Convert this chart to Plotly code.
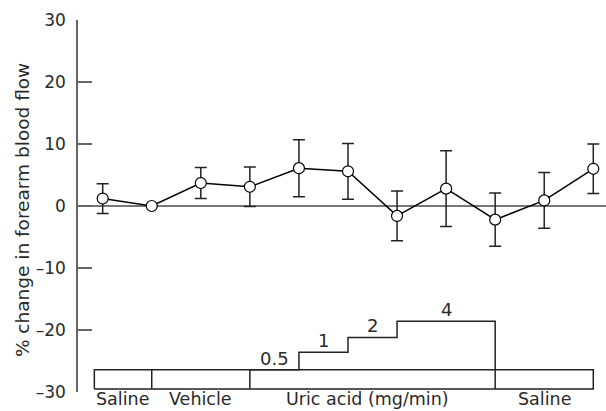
import plotly.graph_objects as go

# ---- data ----
time_points = [1, 2, 3, 4, 5, 6, 7, 8, 9, 10, 11]
pct_change = [1.2, 0.0, 3.7, 3.1, 6.1, 5.6, -1.6, 2.8, -2.2, 0.9, 6.0]
sem = [2.4, 0.0, 2.5, 3.2, 4.6, 4.5, 4.0, 6.1, 4.3, 4.5, 4.0]

y_ticks = [-30, -20, -10, 0, 10, 20, 30]
y_tick_labels = ["–30", "–20", "–10", "0", "10", "20", "30"]

# infusion protocol
phase_names = ["Saline", "Vehicle", "Uric acid (mg/min)", "Saline"]
phase_bounds = [0.83, 2, 4, 9, 11]
phase_label_x = [1.4, 3.0, 6.4, 10.0]
box_bottom = -29.5
box_top = -26.4
dose_labels = ["0.5", "1", "2", "4"]
dose_start = [4, 5, 6, 7]
dose_end = [5, 6, 7, 9]
dose_level = [-26.4, -23.6, -21.2, -18.6]

FONT = "DejaVu Sans"
INK = "#222222"
TXT = "#2a2a2a"

fig = go.Figure()

# protocol base boxes
fig.add_trace(go.Scatter(
    x=[phase_bounds[0], phase_bounds[-1], phase_bounds[-1], phase_bounds[0], phase_bounds[0]],
    y=[box_bottom, box_bottom, box_top, box_top, box_bottom],
    mode="lines", line=dict(color=INK, width=1.5), hoverinfo="skip", showlegend=False))
for b in phase_bounds[1:-1]:
    fig.add_trace(go.Scatter(x=[b, b], y=[box_bottom, box_top], mode="lines",
                             line=dict(color=INK, width=1.5), hoverinfo="skip", showlegend=False))

# dose staircase
sx, sy = [], []
for s, e, lv in zip(dose_start, dose_end, dose_level):
    sx += [s, e]
    sy += [lv, lv]
sx.append(dose_end[-1])
sy.append(box_top)
fig.add_trace(go.Scatter(x=sx, y=sy, mode="lines", line=dict(color=INK, width=1.5, shape="vh"),
                         hoverinfo="skip", showlegend=False))

# main data
fig.add_trace(go.Scatter(
    x=time_points, y=pct_change, mode="lines+markers",
    line=dict(color="black", width=1.5),
    marker=dict(symbol="circle", size=11, color="white", line=dict(color="black", width=1.2)),
    error_y=dict(type="data", array=sem, visible=True, color=INK, thickness=1.5, width=6),
    showlegend=False, cliponaxis=False))

for lbl, s, e, lv in zip(dose_labels, dose_start, dose_end, dose_level):
    fig.add_annotation(x=(s + e) / 2, y=lv, text=lbl, showarrow=False, yanchor="bottom",
                       yshift=-1, font=dict(family=FONT, size=18, color=TXT))
for name, lx in zip(phase_names, phase_label_x):
    fig.add_annotation(x=lx, y=box_bottom, text=name, showarrow=False, yanchor="top",
                       yshift=2, font=dict(family=FONT, size=17.5, color=TXT))

fig.add_annotation(xref="paper", yref="paper", x=0, y=0.489, xshift=-56, xanchor="center",
                   yanchor="middle", textangle=-90, text="% change in forearm blood flow",
                   showarrow=False, font=dict(family=FONT, size=18.5, color=TXT))

fig.update_layout(
    width=606, height=411,
    margin=dict(l=78, r=0, t=20, b=19),
    paper_bgcolor="white", plot_bgcolor="white",
    font=dict(family=FONT, size=17, color=TXT),
    xaxis=dict(range=[0.497, 11.259], showgrid=False, zeroline=False, showline=False,
               showticklabels=False, ticks=""),
    yaxis=dict(range=[-30, 30], tickvals=y_ticks, ticktext=y_tick_labels, showgrid=False,
               zeroline=True, zerolinecolor="#777777", zerolinewidth=1.5,
               showline=True, linecolor="#666666", linewidth=1.5,
               ticks="inside", ticklen=14, tickcolor="#666666", tickwidth=1.5,
               ticklabelstandoff=7, tickfont=dict(family=FONT, size=17, color=TXT)),
)

fig.write_html("out.html", config={"displayModeBar": False},
               post_script="document.body.style.margin='0';document.body.style.overflow='hidden';")
